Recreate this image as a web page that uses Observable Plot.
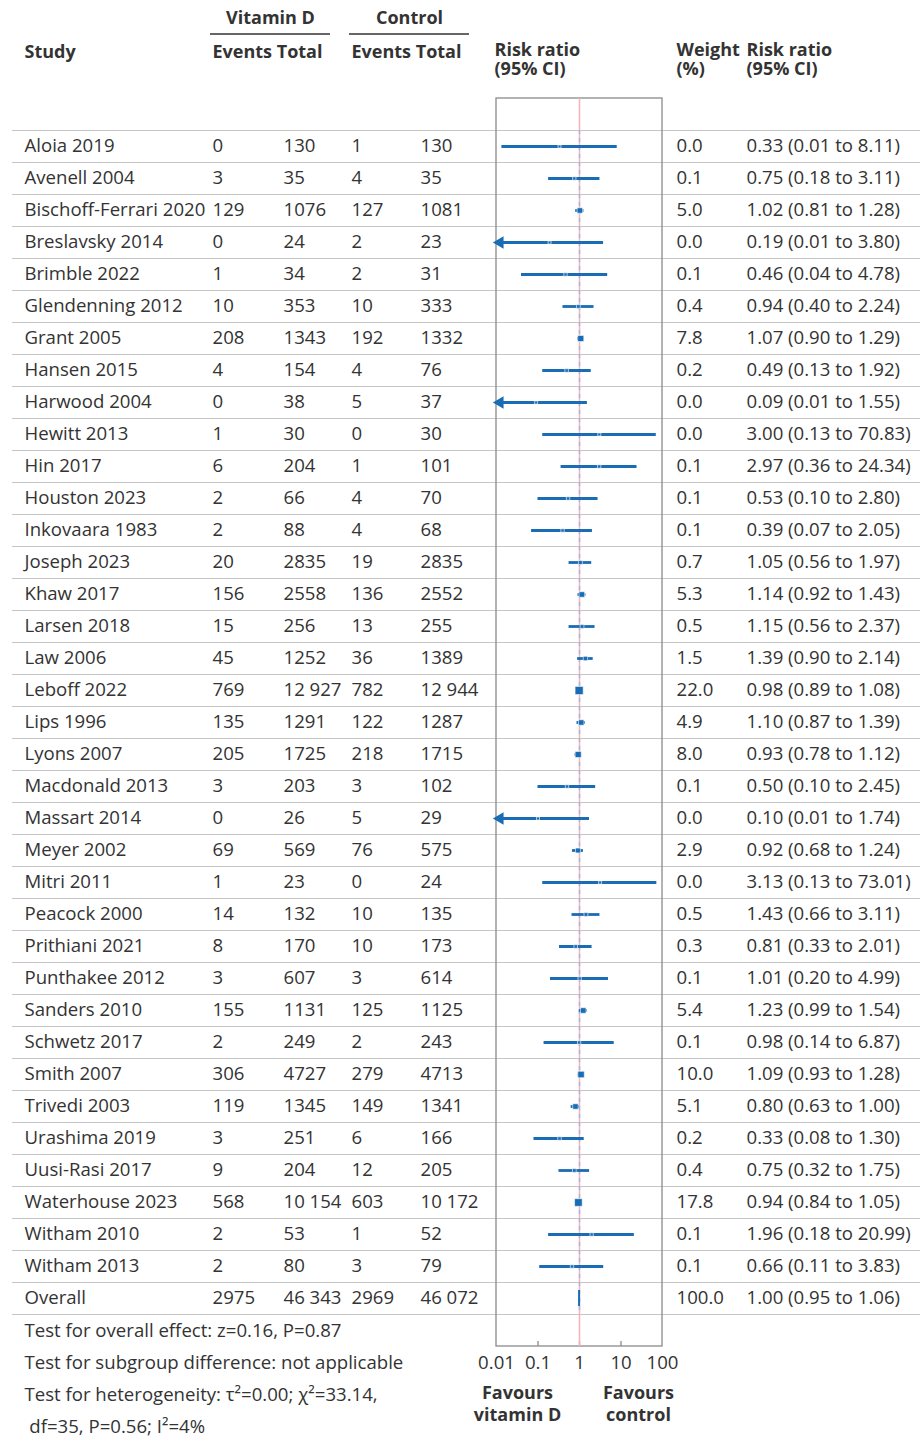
<!DOCTYPE html>
<html><head><meta charset="utf-8">
<script src="https://cdn.jsdelivr.net/npm/d3@7"></script>
<script src="https://cdn.jsdelivr.net/npm/@observablehq/plot@0.6"></script>
<style>body{margin:0;background:#fff} svg{display:block}</style>
</head><body><div id="chart"></div>
<script>
// ---- data ----
const studies = ["Aloia 2019","Avenell 2004","Bischoff-Ferrari 2020","Breslavsky 2014","Brimble 2022","Glendenning 2012","Grant 2005","Hansen 2015","Harwood 2004","Hewitt 2013","Hin 2017","Houston 2023","Inkovaara 1983","Joseph 2023","Khaw 2017","Larsen 2018","Law 2006","Leboff 2022","Lips 1996","Lyons 2007","Macdonald 2013","Massart 2014","Meyer 2002","Mitri 2011","Peacock 2000","Prithiani 2021","Punthakee 2012","Sanders 2010","Schwetz 2017","Smith 2007","Trivedi 2003","Urashima 2019","Uusi-Rasi 2017","Waterhouse 2023","Witham 2010","Witham 2013"];
const vitEvents = [0,3,129,0,1,10,208,4,0,1,6,2,2,20,156,15,45,769,135,205,3,0,69,1,14,8,3,155,2,306,119,3,9,568,2,2];
const vitTotal = [130,35,1076,24,34,353,1343,154,38,30,204,66,88,2835,2558,256,1252,12927,1291,1725,203,26,569,23,132,170,607,1131,249,4727,1345,251,204,10154,53,80];
const ctlEvents = [1,4,127,2,2,10,192,4,5,0,1,4,4,19,136,13,36,782,122,218,3,5,76,0,10,10,3,125,2,279,149,6,12,603,1,3];
const ctlTotal = [130,35,1081,23,31,333,1332,76,37,30,101,70,68,2835,2552,255,1389,12944,1287,1715,102,29,575,24,135,173,614,1125,243,4713,1341,166,205,10172,52,79];
const weights = [0.0,0.1,5.0,0.0,0.1,0.4,7.8,0.2,0.0,0.0,0.1,0.1,0.1,0.7,5.3,0.5,1.5,22.0,4.9,8.0,0.1,0.0,2.9,0.0,0.5,0.3,0.1,5.4,0.1,10.0,5.1,0.2,0.4,17.8,0.1,0.1];
const riskRatio = [0.33,0.75,1.02,0.19,0.46,0.94,1.07,0.49,0.09,3.00,2.97,0.53,0.39,1.05,1.14,1.15,1.39,0.98,1.10,0.93,0.50,0.10,0.92,3.13,1.43,0.81,1.01,1.23,0.98,1.09,0.80,0.33,0.75,0.94,1.96,0.66];
const ciLow = [0.0135,0.18,0.81,0.008,0.04,0.40,0.90,0.13,0.006,0.13,0.36,0.10,0.07,0.56,0.92,0.56,0.90,0.89,0.87,0.78,0.10,0.006,0.68,0.13,0.66,0.33,0.20,0.99,0.14,0.93,0.63,0.08,0.32,0.84,0.18,0.11];
const ciHigh = [8.11,3.11,1.28,3.80,4.78,2.24,1.29,1.92,1.55,70.83,24.34,2.80,2.05,1.97,1.43,2.37,2.14,1.08,1.39,1.12,2.45,1.74,1.24,73.01,3.11,2.01,4.99,1.54,6.87,1.28,1.00,1.30,1.75,1.05,20.99,3.83];
const overallLabel = "Overall";
const overallCounts = [2975, 46343, 2969, 46072];
const overallWeight = 100.0;
const overallRR = [1.00, 0.95, 1.06];
const axisTicks = [0.01, 0.1, 1, 10, 100];
const footnotes = ["Test for overall effect: z=0.16, P=0.87","Test for subgroup difference: not applicable","Test for heterogeneity: \u03c4\u00b2=0.00; \u03c7\u00b2=33.14,"," df=35, P=0.56; I\u00b2=4%"];

// ---- build table ----
const rows = studies.map((s, i) => ({study: s, ve: vitEvents[i], vt: vitTotal[i], ce: ctlEvents[i], ct: ctlTotal[i], w: weights[i], rr: riskRatio[i], lo: ciLow[i], hi: ciHigh[i]}));
const overall = {study: overallLabel, ve: overallCounts[0], vt: overallCounts[1], ce: overallCounts[2], ct: overallCounts[3], w: overallWeight, rr: overallRR[0], lo: overallRR[1], hi: overallRR[2]};
const all = [...rows, overall];

const fmtN = n => n >= 10000 ? d3.format(",")(n).replace(/,/g, " ") : String(n);
const fmtRR = d => `${d.rr.toFixed(2)} (${d.lo.toFixed(2)} to ${d.hi.toFixed(2)})`;
const xMin = 0.01, xMax = 100;

const W = 923, H = 1438, mL = 12, mR = 3, mT = 98, mB = 92;
const blue = "#1a6db5", ink = "#333333", grid = "#c6c6c6";
const FS = 18.6, FB = 18;

function label(text, x, y, opts = {}) {
  return Plot.text([text], {text: d => d, frameAnchor: "top-left", lineAnchor: "middle", textAnchor: "start",
    dx: x - mL, dy: y - mT, fontSize: FS, fill: ink, ...opts});
}
function col(field, x, fmt) {
  return Plot.text(all, {y: "study", text: fmt ? d => fmt(d[field]) : field, frameAnchor: "left", textAnchor: "start",
    dx: x - mL, fontSize: FS, fill: ink});
}
const bold = {fontWeight: "bold", fontSize: FB};
const twoLine = {...bold, lineAnchor: "top", lineHeight: 1.06};

const chart = Plot.plot({
  width: W, height: H,
  marginLeft: mL, marginRight: mR, marginTop: mT, marginBottom: mB,
  style: {fontFamily: "'Open Sans', 'Noto Sans', sans-serif", fontSize: FS + "px", color: ink, background: "#fff"},
  x: {type: "log", domain: [xMin, xMax], range: [496, 662], axis: null},
  y: {type: "band", domain: all.map(d => d.study), range: [130, 1314], padding: 0, axis: null},
  r: {type: "sqrt", domain: [0, 22], range: [1.7, 4.6]},
  marks: [
    // row separators
    Plot.ruleY(all, {y: "study", dy: -16, stroke: grid, strokeWidth: 1.2}),
    Plot.ruleY([overall], {y: "study", dy: 16, stroke: grid, strokeWidth: 1.2}),
    // panel box and header underlines
    (index, scales, values, dims) => {
      const g = d3.create("svg:g");
      const x0 = scales.x(xMin), x1 = scales.x(xMax);
      g.append("rect").attr("x", x0).attr("y", dims.marginTop)
        .attr("width", x1 - x0).attr("height", dims.height - dims.marginTop - dims.marginBottom)
        .attr("fill", "none").attr("stroke", "#8a8a8a").attr("stroke-width", 1.3);
      g.append("line").attr("x1", 210).attr("x2", 330).attr("y1", 34).attr("y2", 34).attr("stroke", ink).attr("stroke-width", 1.5);
      g.append("line").attr("x1", 349).attr("x2", 469).attr("y1", 34).attr("y2", 34).attr("stroke", ink).attr("stroke-width", 1.5);
      return g.node();
    },
    // bottom ticks
    Plot.ruleX([0.1, 1, 10], {stroke: "#8a8a8a", strokeWidth: 1.3, insetTop: H - mT - mB - 5}),
    // null line at 1 and overall line
    Plot.ruleX([1], {stroke: "#f5b3b8", strokeWidth: 1.5}),
    Plot.ruleX([overall.rr], {stroke: "#a9b5e0", strokeWidth: 1.5, strokeDasharray: "4,4", insetTop: 32, insetBottom: 32}),
    // confidence intervals
    Plot.ruleY(rows, {y: "study", x1: d => Math.max(d.lo, xMin), x2: d => Math.min(d.hi, xMax), stroke: blue, strokeWidth: 2.8}),
    Plot.dot(rows.filter(d => d.lo < xMin), {x: () => xMin, y: "study", symbol: "triangle", rotate: -90, r: 4.6, fill: blue, dx: 3.5}),
    Plot.dot(rows, {x: "rr", y: "study", r: "w", symbol: "square", fill: blue, stroke: "white", strokeWidth: 0.7, strokeOpacity: 0.85}),
    // overall estimate
    Plot.barX([overall], {x1: "lo", x2: "hi", y: "study", fill: blue, insetTop: 8, insetBottom: 8}),
    // axis labels
    Plot.axisX(axisTicks, {tickSize: 0, tickPadding: 9, fontSize: FS, tickFormat: d => String(d), label: null, fill: ink}),
    // table columns
    col("study", 24),
    col("ve", 212, fmtN),
    col("vt", 283, fmtN),
    col("ce", 351, fmtN),
    col("ct", 420, fmtN),
    col("w", 676, d => d.toFixed(1)),
    Plot.text(all, {y: "study", text: fmtRR, frameAnchor: "left", textAnchor: "start", dx: 746 - mL, fontSize: FS, fill: ink}),
    // headers
    label("Vitamin D", 270, 18, {...bold, textAnchor: "middle"}),
    label("Control", 409, 18, {...bold, textAnchor: "middle"}),
    label("Study", 24, 52, bold),
    label("Events Total", 212, 52, bold),
    label("Events Total", 351, 52, bold),
    label("Risk ratio\n(95% CI)", 494, 42, twoLine),
    label("Weight\n(%)", 676, 42, twoLine),
    label("Risk ratio\n(95% CI)", 746, 42, twoLine),
    // favours
    label("Favours\nvitamin D", 517, 1384, {...twoLine, lineHeight: 1.17, textAnchor: "middle"}),
    label("Favours\ncontrol", 638, 1384, {...twoLine, lineHeight: 1.17, textAnchor: "middle"}),
    // footnotes
    ...footnotes.map((t, i) => label(t, 24, 1331 + 32 * i))
  ]
});
document.getElementById("chart").append(chart);
</script>
</body></html>
